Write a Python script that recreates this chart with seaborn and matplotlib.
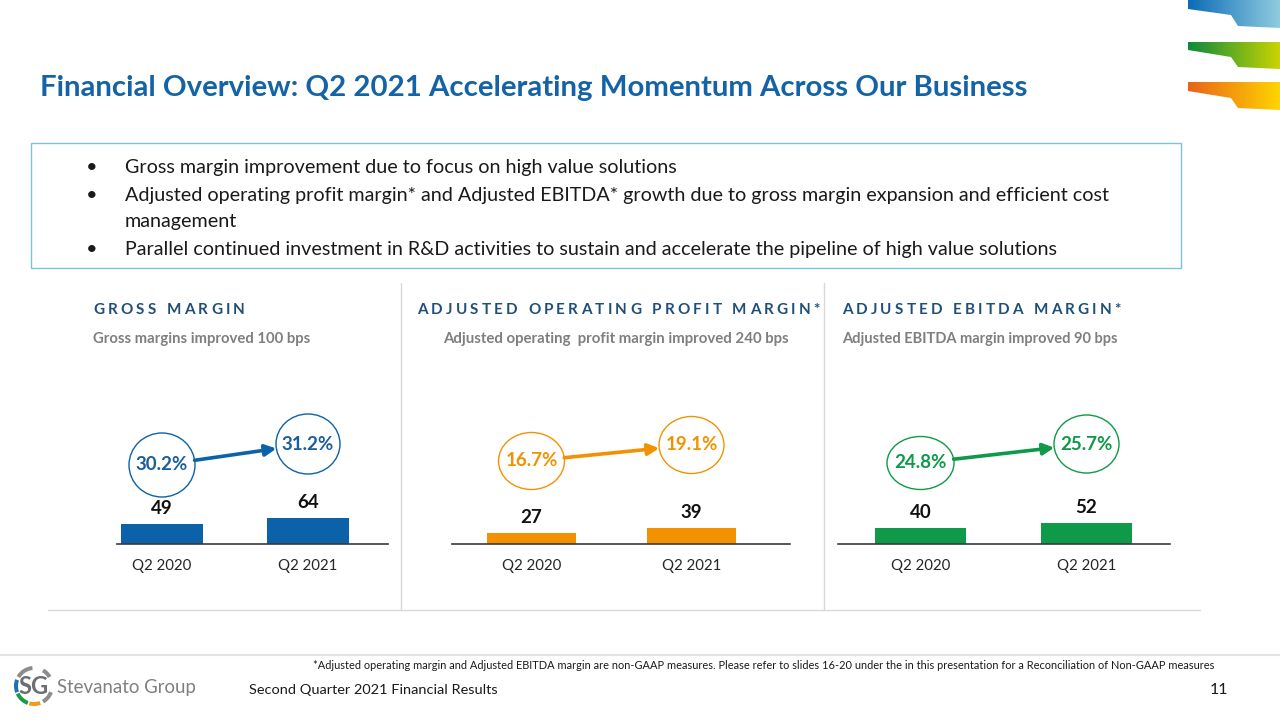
import numpy as np
import pandas as pd
import matplotlib
matplotlib.use("Agg")
import matplotlib.pyplot as plt
import seaborn as sns
from matplotlib.patches import Ellipse, Polygon, Rectangle, Wedge
from matplotlib.colors import to_rgb

# ---------------- data ----------------
periods = ["Q2 2020", "Q2 2021"]
gross_profit = [49, 64]
adj_operating_profit = [27, 39]
adj_ebitda = [40, 52]
gross_margin_pct = [30.2, 31.2]
operating_margin_pct = [16.7, 19.1]
ebitda_margin_pct = [24.8, 25.7]

panel_titles = ["GROSS MARGIN", "ADJUSTED OPERATING PROFIT MARGIN*", "ADJUSTED EBITDA MARGIN*"]
panel_subtitles = ["Gross margins improved 100 bps",
                   "Adjusted operating  profit margin improved 240 bps",
                   "Adjusted EBITDA margin improved 90 bps"]
title_text = "Financial Overview: Q2 2021 Accelerating Momentum Across Our Business"
bullet_lines = [
    ("•", "Gross margin improvement due to focus on high value solutions"),
    ("•", "Adjusted operating profit margin* and Adjusted EBITDA* growth due to gross margin expansion and efficient cost"),
    ("", "management"),
    ("•", "Parallel continued investment in R&D activities to sustain and accelerate the pipeline of high value solutions"),
]
footnote_text = ("*Adjusted operating margin and Adjusted EBITDA margin are non-GAAP measures. Please refer to slides 16-20 "
                 "under the in this presentation for a Reconciliation of Non-GAAP measures")
footer_text = "Second Quarter 2021 Financial Results"
page_number = "11"
logo_mark = "SG"
logo_name = "Stevanato Group"

# ---------------- style ----------------
sns.set_theme(style="white")
plt.rcParams["font.family"] = ["Lato", "DejaVu Sans"]

W, H = 1280, 720
fig = plt.figure(figsize=(12.8, 7.2), dpi=100)
renderer = fig.canvas.get_renderer()

bg = fig.add_axes([0, 0, 1, 1], zorder=0)
fg = fig.add_axes([0, 0, 1, 1], zorder=5)
for a in (bg, fg):
    a.set_xlim(0, W)
    a.set_ylim(H, 0)
    a.axis("off")
    a.patch.set_alpha(0)

TITLE_BLUE = "#1463A6"
NAVY = "#1F4E79"
GRAY = "#7F7F7F"
colors = ["#0B62A8", "#F39200", "#0E9A48"]
text_colors = ["#1A5E9E", "#F39200", "#0E9A48"]


def fit_width(t, target):
    w = t.get_window_extent(renderer).width
    t.set_fontsize(t.get_fontsize() * target / w)
    return t


def spaced(ax, x0, y, s, size, target, color):
    # letter-spaced text, total width fitted to target
    widths = []
    for ch in s:
        tt = ax.text(0, 0, ch if ch != " " else "n", fontsize=size, fontweight="bold")
        wch = tt.get_window_extent(renderer).width
        tt.remove()
        widths.append(wch if ch != " " else wch * 0.45)
    extra = (target - sum(widths)) / (len(s) - 1)
    x = x0
    for ch, wch in zip(s, widths):
        if ch != " ":
            ax.text(x, y, ch, fontsize=size, fontweight="bold", color=color, va="baseline", ha="left")
        x += wch + extra


# ---------------- decorations (background) ----------------
def gradient_poly(pts, c0, c1):
    poly = Polygon(pts, closed=True, facecolor="none", edgecolor="none")
    bg.add_patch(poly)
    xs = [p[0] for p in pts]
    ys = [p[1] for p in pts]
    n = 64
    a0, a1 = np.array(to_rgb(c0)), np.array(to_rgb(c1))
    grad = np.array([a0 + (a1 - a0) * k / (n - 1) for k in range(n)])[None, :, :]
    im = bg.imshow(grad, extent=(min(xs), max(xs), max(ys), min(ys)), aspect="auto",
                   interpolation="bilinear", zorder=1)
    im.set_clip_path(poly)

gradient_poly([(1188, 0), (1280, 0), (1280, 28), (1238, 26), (1231, 15), (1188, 9)], "#0C6CB6", "#8FCBE0")
gradient_poly([(1188, 42), (1280, 42), (1280, 69), (1238, 67), (1231, 57), (1188, 50)], "#0B8A3E", "#C9D400")
gradient_poly([(1188, 82), (1280, 82), (1280, 110), (1238, 108), (1231, 98), (1188, 91)], "#E8641B", "#FFD400")
bg.set_xlim(0, W)
bg.set_ylim(H, 0)

# bullet box
bg.add_patch(Rectangle((31, 143), 1150, 125, facecolor="none", edgecolor="#7CC1DE", lw=1.0, zorder=2))
# separators
bg.plot([48, 1200], [610, 610], color="#D9D9D9", lw=1.0, zorder=2)
bg.plot([401, 401], [283, 610], color="#D9D9D9", lw=1.0, zorder=2)
bg.plot([824, 824], [283, 610], color="#D9D9D9", lw=1.0, zorder=2)
bg.plot([0, W], [655, 655], color="#E3E3E3", lw=1.5, zorder=2)

# ---------------- texts ----------------
t = fg.text(40, 96, title_text, fontsize=20, fontweight="bold", color=TITLE_BLUE, va="baseline")
fit_width(t, 987)

ref = fg.text(125, 201, bullet_lines[1][1], fontsize=13, color="#1A1A1A", va="baseline")
fit_width(ref, 979)
bsize = ref.get_fontsize()
ref.remove()
for (b, line), yb in zip(bullet_lines, [173, 201, 227, 255]):
    if b:
        fg.text(92, yb, b, fontsize=bsize, color="#1A1A1A", va="baseline", ha="center")
    fg.text(125, yb, line, fontsize=bsize, color="#1A1A1A", va="baseline")

# ---------------- bar panels ----------------
BASE_Y, TOP_Y = 544, 380
PX_PER_UNIT = 0.41
geom = [dict(x0=117, x1=388, c0=162, c1=308, bw=82, hx=93, hw=152, sx=93, sw=216),
        dict(x0=452, x1=790, c0=531.5, c1=691.5, bw=89, hx=417, hw=403, sx=443, sw=346),
        dict(x0=838, x1=1170, c0=920.5, c1=1086.5, bw=91, hx=842, hw=279, sx=842, sw=275)]
values = [gross_profit, adj_operating_profit, adj_ebitda]
margins = [gross_margin_pct, operating_margin_pct, ebitda_margin_pct]
circle_pos = [[(465, 66, 64), (444, 64, 60)],
              [(461, 66, 57), (445, 65, 57)],
              [(463, 67, 53), (444, 65, 58)]]

for i, g in enumerate(geom):
    sp = g["c1"] - g["c0"]
    ax = fig.add_axes([g["x0"] / W, (H - BASE_Y) / H, (g["x1"] - g["x0"]) / W, (BASE_Y - TOP_Y) / H], zorder=2)
    df = pd.DataFrame({"period": periods, "value": values[i]})
    sns.barplot(data=df, x="period", y="value", color=colors[i], saturation=1, width=g["bw"] / sp,
                ax=ax, edgecolor="none")
    ax.set_xlim((g["x0"] - g["c0"]) / sp, (g["x1"] - g["c0"]) / sp)
    ax.set_ylim(0, (BASE_Y - TOP_Y) / PX_PER_UNIT)
    ax.set_xlabel("")
    ax.set_ylabel("")
    ax.set_yticks([])
    ax.patch.set_alpha(0)
    for s in ["top", "left", "right"]:
        ax.spines[s].set_visible(False)
    ax.spines["bottom"].set_color("#3A3A3A")
    ax.spines["bottom"].set_linewidth(1.2)
    ax.tick_params(axis="x", length=0, pad=11, labelsize=10.8, labelcolor="#262626")
    ax.bar_label(ax.containers[0], fmt="%d", padding=5, fontsize=13.5, fontweight="bold", color="#111111")

    # headings
    spaced(fg, g["hx"], 314, panel_titles[i], 11, g["hw"], NAVY)
    st = fg.text(g["sx"], 343, panel_subtitles[i], fontsize=11, fontweight="bold", color=GRAY, va="baseline")
    fit_width(st, g["sw"])

    # margin circles + arrow
    centers = []
    for k in range(2):
        xd = ax.transData.transform((k, 0))[0]
        cy, ew, eh = circle_pos[i][k]
        centers.append((xd, cy, ew / 2, eh / 2))
        fg.add_patch(Ellipse((xd, cy), ew, eh, facecolor="white", edgecolor=colors[i], lw=1.0, zorder=3))
        fg.text(xd, cy, f"{margins[i][k]:.1f}%", fontsize=13.5, fontweight="bold", color=text_colors[i],
                ha="center", va="center", zorder=4)
    (x1, y1, a1, b1), (x2, y2, a2, b2) = centers
    dx, dy = x2 - x1, y2 - y1
    n = np.hypot(dx, dy)
    ux, uy = dx / n, dy / n
    t1 = 1 / np.hypot(ux / a1, uy / b1)
    t2 = 1 / np.hypot(ux / a2, uy / b2)
    fg.annotate("", xy=(x2 - ux * t2, y2 - uy * t2), xytext=(x1 + ux * t1, y1 + uy * t1),
                arrowprops=dict(arrowstyle="-|>,head_length=0.55,head_width=0.28", lw=2.6,
                                color=colors[i], shrinkA=0, shrinkB=0), zorder=4)

# ---------------- footer ----------------
fn = fg.text(313, 669, footnote_text, fontsize=8, color="#1A1A1A", va="baseline")
fit_width(fn, 900)
ft = fg.text(249, 694, footer_text, fontsize=11.5, color="#1A1A1A", va="baseline")
fit_width(ft, 248)
fg.text(1228, 694, page_number, fontsize=11.5, color="#1A1A1A", va="baseline", ha="right")

# logo
cx, cy = 34, 686
for a0, a1, c in [(95, 150, "#8C8C8C"), (160, 200, "#1F6FB5"), (205, 250, "#1B9A4A"),
                  (255, 290, "#F29A1F"), (300, 340, "#8C8C8C"), (30, 60, "#8C8C8C")]:
    bg.add_patch(Wedge((cx, cy), 20, -a1, -a0, width=4, facecolor=c, edgecolor="none", zorder=2))
lm = fg.text(cx, cy + 1, logo_mark, fontsize=17, fontweight="bold", color="#6D6E71", ha="center", va="center")
ln = fg.text(57, 693, logo_name, fontsize=15, color="#808080", va="baseline")
fit_width(ln, 139)

fig.savefig("out.png", dpi=100)
